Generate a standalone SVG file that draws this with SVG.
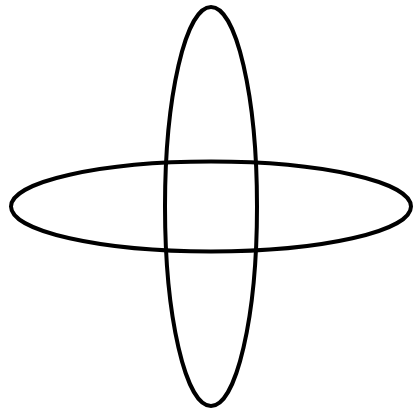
<svg xmlns="http://www.w3.org/2000/svg" width="414" height="413" viewBox="0 0 414 413">
<style>.e{fill:none;stroke:#000;stroke-width:4}</style>
<rect width="414" height="413" fill="#fff"/>
<g id="vertical"><ellipse class="e" cx="211" cy="206.5" rx="46" ry="199.5"/></g>
<g id="horizontal"><ellipse class="e" cx="211" cy="206.5" rx="200" ry="45"/></g>
</svg>
